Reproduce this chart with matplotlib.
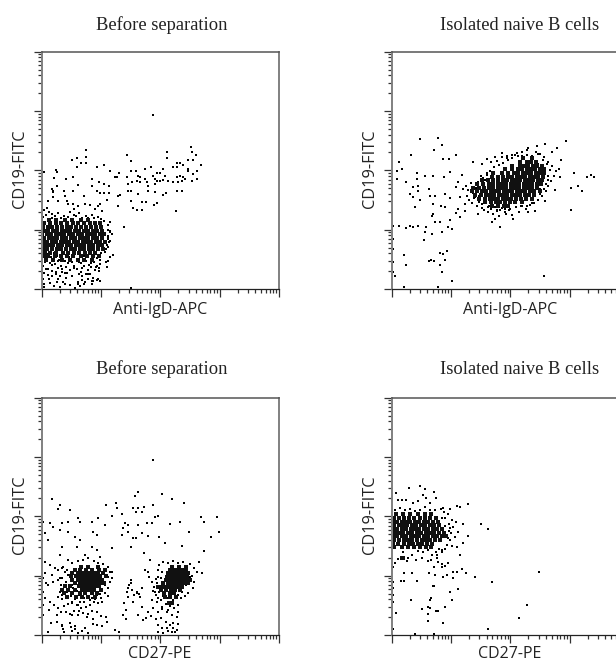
import numpy as np
import matplotlib
matplotlib.use("Agg")
import matplotlib.pyplot as plt

# all values are channels, 178 channels per log decade, 4 decades per axis
CH_DECADE = 178
W, H = 616, 663

titles = ["Before separation", "Isolated naive B cells", "Before separation", "Isolated naive B cells"]
xlabels = ["Anti-IgD-APC", "Anti-IgD-APC", "CD27-PE", "CD27-PE"]
ylabel = "CD19-FITC"

# ---- top left, single events
tl_points = [(333,523),(133,417),(90,388),(107,393),(133,397),(118,378),(133,378),(105,365),(7,350),(42,358),(45,350),(166,367),(186,373),(205,354),(37,333),(73,330),(95,335),(150,330),(219,335),(227,335),(233,348),(257,403),(267,383),(283,355),(267,353),(257,335),(310,360),(327,365),(365,360),(377,412),(377,393),(447,427),(450,412),(463,403),(440,388),(453,388),(478,373),(405,377),(415,377),(425,373),(395,365),(405,367),(440,360),(467,353),(455,345),(345,347),(355,348),(370,340),(290,338),(295,337),(310,330),(335,340),(340,330),(345,325),(315,320),(320,310),(340,315),(355,325),(365,327),(380,325),(395,320),(405,335),(415,340),(425,335),(430,330),(420,325),(410,320),(450,325),(465,330),(440,353),(258,315),(270,320),(285,325),(295,320),(260,293),(268,293),(290,285),(320,293),(340,290),(365,283),(372,287),(405,293),(420,293),(230,278),(235,283),(267,265),(300,262),(312,262),(337,253),(345,257),(273,243),(287,238),(300,238),(230,248),(403,233),(247,185),
(32,300),(35,295),(47,310),(68,295),(70,280),(95,293),(110,313),(150,310),(173,320),(187,315),(203,310),(165,293),(175,287),(187,287),(203,287),(127,278),(20,263),(35,275),(50,265),(75,265),(80,255),(95,255),(110,250),(130,255),(145,253),(175,255),(170,248),(195,267),(160,240),(180,235),(205,175),(210,165),(200,155),(205,145),(215,103),(205,95),(200,85),(193,80),(197,65),(175,75),(173,55),(170,30),(155,25),(267,3),
(5,215),(12,222),(22,230),(30,226),(40,218),(50,228),(58,214),(68,220),(78,216),(85,230),(96,222),(104,218),(112,228),(120,214),(132,220),(140,214),(150,222),(158,212),(168,216),(178,210),(188,205),(198,192),(205,200),(6,238),(15,244),(98,240),(30,214),
(198,178),(205,170),(200,160),(198,150),(202,140),(195,132),(200,125),(192,120),(190,112),(178,108),(172,100),(165,92),
(6,110),(18,105),(28,96),(36,108),(46,100),(52,88),(62,98),(70,85),(82,95),(90,80),(98,104),(108,90),(118,78),(126,100),(134,84),(142,72),(150,92),(158,80),(166,70),(176,88),(12,85),(24,78),(40,74),(48,62),(58,70),(74,66),(84,58),(96,68),(106,60),(122,62),(138,56),(148,66),(160,58),(172,62),(5,70),(14,60),(30,55),
(8,48),(20,42),(32,38),(42,46),(50,30),(56,40),(64,22),(72,34),(84,12),(100,4),(108,16),(116,8),(120,28),(122,40),(130,20),(140,30),(150,14),(155,34),(165,26),(4,30),(6,16),(8,6),(26,18),(38,8),(54,6),(112,44),(132,44),(144,46),(176,24),(60,50),(76,48)]

# ---- top right, single events
tr_points = [(85,449),(139,454),(150,431),(128,417),(58,403),(21,380),(32,361),(15,355),(15,329),(75,348),(75,330),(101,338),(123,338),(153,390),(171,390),(192,403),(175,352),(158,335),(42,320),(65,305),(80,310),(80,295),(55,285),(65,275),(85,268),(112,301),(115,278),(130,278),(160,285),(175,273),(70,245),(125,255),(147,248),(160,245),(120,220),(125,225),(130,202),(145,202),(175,207),(22,190),(42,182),(55,190),(65,185),(80,190),(102,185),(100,170),(120,165),(97,148),(150,172),(170,185),(180,180),(37,101),(43,73),(145,108),(155,105),(165,113),(113,85),(118,88),(128,83),(160,88),(145,73),(150,52),(10,38),(180,23),(140,5),(37,5),(458,38),
(522,445),(460,435),(495,422),(480,412),(507,388),(503,360),(505,335),(548,348),(597,342),(586,335),(608,335),(538,302),(560,310),(570,293),(538,237),(490,298),(460,265),(430,235),(410,232),(365,210),(325,185),(300,200),(310,210),(260,225),(220,235),(205,215),(193,227),(200,240),(220,255),(205,275),(193,305),(200,320),(210,342),(245,380),(270,375),(287,390),(310,395),(330,408),(345,400),(370,403),(410,422),(435,430),
(215,300),(222,310),(230,296),(238,318),(245,288),(252,302),(258,320),(262,280),(268,340),(272,296),(278,262),(280,328),(285,348),(292,250),(225,280),(232,268),(240,258),(248,272),(255,248),(262,260),(270,244),(278,238),(288,232),(298,240),(305,225),(315,238),(322,218),(332,242),(342,225),(352,238),(362,222),(372,245),(382,232),(392,250),(402,240),(415,252),(428,258),(440,268),(452,280),(462,295),(470,310),(478,325),(486,340),(492,355),(480,368),(470,382),(458,395),(446,405),(432,412),(420,400),(405,402),(392,400),(378,398),(362,392),(348,388),(335,378),(322,372),(308,365),(295,355),(285,342),(275,332),(298,380),(315,385),(330,395),(345,392),(360,402),(375,408),(390,412),(405,418),(440,405),(455,388),(465,375),(475,358),(468,340),(468,328),(462,315),(458,300),(445,285),(438,268),(422,258),(405,250),(388,248),(310,245),(325,238),(340,240),(355,240),(4,190),(4,150),(4,120),(4,80),(4,50)]

# ---- bottom left, single events
bl_points = [(335,525),(290,430),(280,418),(360,423),(390,408),(428,397),(30,408),(55,390),(50,378),(85,375),(193,390),(223,397),(225,380),(210,357),(240,363),(275,380),(290,380),(307,385),(300,370),(283,368),(335,390),(350,358),(340,353),(478,355),(526,355),(487,338),(532,310),(507,295),(443,310),(385,332),(415,340),(487,252),(472,220),(465,190),(480,187),(420,268),(370,275),(353,295),(320,298),(300,305),(275,290),(283,290),(267,263),(307,245),(325,225),(315,335),(330,335),(290,330),(250,335),(260,330),(245,320),(240,300),(260,310),(190,330),(170,350),(150,340),(155,310),(165,300),(110,350),(115,338),(80,340),(60,335),(5,340),(25,335),(35,325),(10,305),(20,285),(0,320),(55,315),(80,310),(100,295),(115,285),(60,265),(105,263),(150,265),(165,255),(210,260),(55,240),(80,225),(130,240),(175,235),(10,220),(25,210),(40,200),(10,185),(30,180),(50,195),(65,205),
(60,200),(75,195),(92,215),(108,222),(125,225),(140,232),(158,222),(170,215),(185,212),(200,205),(210,190),(78,180),(62,172),(50,165),(35,160),(20,150),(12,155),(72,160),(58,150),(82,148),(95,140),(105,132),(112,120),(68,125),(55,130),(50,115),(62,108),(75,112),(88,118),(100,108),(115,100),(128,110),(140,118),(152,112),(165,120),(178,112),(190,125),(200,140),(205,158),(210,172),(198,118),(182,100),(170,95),(158,100),(145,90),(132,85),(118,82),(105,90),(92,95),(80,92),(66,88),(50,82),(38,90),(25,100),(10,110),(22,75),(45,60),(58,68),(72,70),(85,62),(98,72),(110,60),(125,66),(138,62),(150,72),(165,70),(178,58),(192,55),(28,35),(18,8),(60,28),(62,30),(68,10),(85,35),(88,25),(92,12),(100,18),(110,6),(122,12),(138,5),(155,32),(165,30),(180,28),(195,40),(220,15),(232,8),(5,60),(5,90),(5,130),(4,170),
(245,60),(252,48),(258,115),(262,150),(268,165),(272,135),(278,120),(285,130),(292,122),(295,115),(300,140),(255,128),(248,95),(252,75),(275,100),(288,60),(300,85),(305,45),(312,50),(320,70),(318,188),(310,195),(322,175),(330,160),(342,168),(338,145),
(352,210),(365,218),(380,215),(395,222),(410,216),(425,220),(445,212),(458,200),(452,178),(458,160),(455,140),(440,125),(430,118),(418,110),(408,120),(395,105),(380,112),(365,118),(352,128),(342,120),(335,132),(330,105),(345,98),(358,105),(372,92),(385,88),(398,80),(410,70),(405,55),(390,60),(375,68),(362,78),(350,70),(335,80),(328,58),(342,48),(358,52),(372,38),(385,30),(395,22),(405,15),(380,12),(360,20),(348,8),(365,5),(392,8),(410,32),(358,170),(345,155),(352,148),(362,190),(348,195),(365,140)]

# ---- bottom right, single events
br_points = [(85,448),(52,442),(100,437),(127,430),(13,425),(95,420),(103,410),(133,410),(20,405),(30,405),(43,405),(80,403),(65,395),(115,395),(230,393),(197,387),(205,383),(155,380),(175,378),(268,333),(288,318),(215,333),(230,298),(215,275),(205,240),(443,190),(302,158),(250,175),(212,197),(222,185),(197,190),(185,190),(185,170),(165,180),(155,175),(38,185),(60,185),(113,185),(130,180),(27,163),(38,163),(75,163),(3,158),(123,148),(127,148),(175,128),(198,137),(180,105),(115,105),(118,110),(57,105),(90,78),(108,85),(115,80),(133,73),(138,73),(160,83),(110,63),(108,42),(13,67),(155,35),(5,19),(70,4),(127,4),(288,19),(382,51),(406,89),(4,100),(4,120),(4,140),
(148,378),(158,370),(168,362),(180,345),(192,340),(160,350),(172,332),(185,325),(160,328),(172,312),(178,305),(190,295),(198,310),(175,285),(165,270),(180,268),(195,265),(160,258),(150,248),(142,258),(132,250),(122,240),(135,232),(118,225),(140,218),(150,212),(128,205),(150,205),(160,208),(170,215),(108,222),(92,232),(72,225),(60,240),(48,230),(20,228),(10,215),(4,205),(45,222),(35,250),(80,252),(95,248),(110,255),(10,376),(25,382),(40,374),(55,378),(70,372),(85,376),(100,384),(115,376),(130,374)]

# ---- heavier spots where a few events touch
tl_mid = [(10,80),(30,72),(48,84),(60,60),(78,78),(96,62),(112,80),(128,70),(148,78),(162,66),(20,60),(42,52),(70,48),(90,40),(118,52),(140,44),(22,30),(46,22),(70,16),(110,22),(128,14),(150,24),(30,300),(34,292)]
tr_mid = [(240,290),(255,300),(250,275),(270,255),(290,245),(315,235),(340,232),(445,300),(452,320),(448,350),(440,375),(420,395)]
bl_mid = [(60,120),(75,130),(90,150),(56,170),(70,190),(90,100),(110,90),(128,100),(145,105),(160,108),(176,122),(190,150),(198,175),(205,190),(90,60),(112,72),(135,55),(155,48),(45,40),(65,18),(100,28),(130,20),(340,130),(350,110),(362,85),(378,75),(392,95),(408,90),(420,130),(432,150),(445,175),(350,30),(375,22),(395,35),(400,10),(350,175),(260,140),(285,125),(268,155)]
br_mid = [(30,232),(34,228),(125,148),(150,255),(135,240),(165,300),(175,320),(150,350),(170,290)]

# ---- dense parts, one row of events per y channel
tl_core_y = [208, 197, 186, 175, 164, 153, 142, 131, 120, 109, 98, 87]
tl_core_x = [[22,44,70,92,118,140],
             [8,26,42,58,76,94,110,128,146,160,176],
             [4,18,32,46,60,75,88,102,118,132,148,162,178],
             [6,20,33,46,60,73,86,100,113,126,140,153,166,182],
             [2,15,28,42,55,68,82,95,108,122,135,148,161,174,188],
             [8,21,34,47,60,74,87,100,114,127,140,153,166,180],
             [4,17,30,44,57,70,83,96,110,123,136,149,162,176,190],
             [9,22,35,49,62,75,88,102,115,128,141,155,168,182],
             [3,16,30,46,58,72,88,100,114,128,142,154,170,184],
             [10,26,44,64,80,98,112,130,146,160],
             [6,20,40,58,76,94,118,136,154,172],
             [14,34,62,86,108,128,150]]

tr_core_y = [392, 381, 370, 359, 348, 337, 326, 315, 304, 293, 282, 271, 260, 249]
tr_core_x = [[395,420],
             [385,405,418,432],
             [362,385,398,410,423,436,450],
             [340,362,378,392,405,418,431,444,458],
             [305,330,350,366,380,393,406,419,432,445,458],
             [300,318,334,348,362,375,388,401,414,427,440,454],
             [270,290,305,320,334,347,360,373,386,399,412,425,438,450],
             [255,275,292,305,318,331,344,357,370,383,396,409,422,435,448],
             [245,262,278,292,305,318,331,344,357,370,383,396,409,422,436],
             [240,256,270,284,297,310,323,336,349,362,375,388,401,414,428,444],
             [250,268,282,295,308,321,334,347,360,373,386,399,412,426],
             [262,280,294,307,320,333,346,359,372,388,402,420],
             [280,298,312,326,340,354,370,392],
             [300,318,336,350]]

bl_core_y = [205, 196, 186, 176, 166, 156, 146, 136, 126, 114, 205, 195, 185, 175, 165, 155, 145, 135, 125, 113, 95]
bl_core_x = [[118,140,168],
             [100,116,134,150,172,190],
             [92,108,120,132,144,156,170,184],
             [88,102,116,128,140,152,164,176,192],
             [92,108,120,132,144,156,168,180],
             [100,114,126,138,150,162,174,188],
             [70,84,112,124,136,148,160,172],
             [60,78,100,120,134,146,158,178],
             [68,92,114,130,150,166],
             [76,104,122,140,160],
             [390,412,432],
             [385,397,409,421,433],
             [380,392,404,416,428,440],
             [376,388,400,412,424,436],
             [372,384,396,408,420,432,446],
             [365,378,390,402,414,426,438],
             [350,362,374,386,398,410,422],
             [358,374,388,400,414],
             [368,384,398],
             [370,386,402],
             [382,392]]

br_core_y = [362, 351, 340, 329, 318, 307, 296, 285, 274, 263, 230]
br_core_x = [[14,34,56,78,100,118],
             [6,22,38,52,68,84,100,116,132],
             [3,16,30,43,56,70,83,96,110,123,138],
             [8,21,34,47,60,74,87,100,114,127,142],
             [3,16,30,44,57,70,83,96,110,123,136,150],
             [9,22,35,49,62,75,88,102,115,128,141,156],
             [3,16,30,44,57,70,83,96,110,123,136,150,162],
             [8,22,36,49,62,76,90,103,116,130,144],
             [4,18,36,52,65,78,92,106,122],
             [8,30,48,66,84,102,118],
             [30,34]]

all_points = [tl_points, tr_points, bl_points, br_points]
all_mid = [tl_mid, tr_mid, bl_mid, br_mid]
all_core = [(tl_core_x, tl_core_y), (tr_core_x, tr_core_y), (bl_core_x, bl_core_y), (br_core_x, br_core_y)]
core_sizes = [6.6, 6.6, 5.0, 6.6]

lefts = [41.7, 391.7, 41.7, 391.7]
tops = [51.7, 51.7, 397.7, 397.7]
title_x = [162, 520, 162, 520]
title_y = [25, 25, 369, 369]
xlabel_y = [310, 310, 654, 654]
xlabel_x = [160, 510, 160, 510]
ylabel_x = [20, 370, 20, 370]
SIZE = 237.3

major = [CH_DECADE * i for i in range(5)]
minor = [CH_DECADE * (i + np.log10(k)) for i in range(4) for k in range(2, 10)]

fig = plt.figure(figsize=(W / 100, H / 100), dpi=100)

for i in range(4):
    ax = fig.add_axes([lefts[i] / W, 1 - (tops[i] + SIZE) / H, SIZE / W, SIZE / H])

    pts = np.array(all_points[i])
    ax.scatter(pts[:, 0], pts[:, 1], s=1.0, marker="s", color="black", linewidths=0)

    mid = np.array(all_mid[i])
    ax.scatter(mid[:, 0], mid[:, 1], s=3.0, marker="s", color="black", linewidths=0)

    core_x, core_y = all_core[i]
    for row_x, y in zip(core_x, core_y):
        ax.scatter(row_x, [y] * len(row_x), s=core_sizes[i], marker="s", color="#111111", linewidths=0)

    ax.set_xlim(0, CH_DECADE * 4)
    ax.set_ylim(0, CH_DECADE * 4)
    ax.set_xticks(major)
    ax.set_yticks(major)
    ax.set_xticks(minor, minor=True)
    ax.set_yticks(minor, minor=True)
    ax.set_xticklabels([])
    ax.set_yticklabels([])
    ax.tick_params(which="major", length=6, width=0.9, color="#333333")
    ax.tick_params(which="minor", length=3, width=0.9, color="#333333")

    ax.spines["left"].set_color("#808080")
    ax.spines["left"].set_linewidth(1.4)
    ax.spines["right"].set_color("#808080")
    ax.spines["right"].set_linewidth(1.4)
    ax.spines["top"].set_color("#555555")
    ax.spines["top"].set_linewidth(1.1)
    ax.spines["bottom"].set_color("#222222")
    ax.spines["bottom"].set_linewidth(0.9)

    fig.text(title_x[i] / W, 1 - title_y[i] / H, titles[i], family="Liberation Serif",
             fontsize=13.3, color="#222222", ha="center", va="center")
    fig.text(xlabel_x[i] / W, 1 - xlabel_y[i] / H, xlabels[i], family="Open Sans",
             fontsize=11.5, color="#222222", ha="center", va="center")
    fig.text(ylabel_x[i] / W, 1 - (tops[i] + 117) / H, ylabel, family="Open Sans",
             fontsize=11.8, color="#222222", ha="center", va="center", rotation=90)

fig.savefig("out.png", dpi=100)
